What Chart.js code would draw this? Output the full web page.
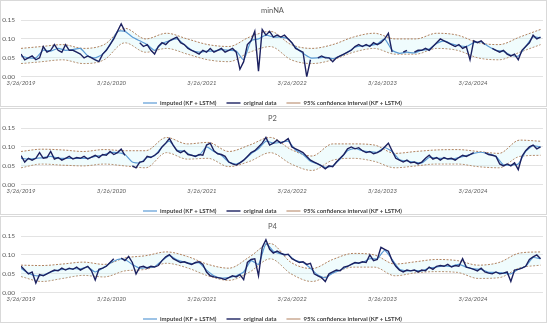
<!DOCTYPE html>
<html>
<head>
<meta charset="utf-8">
<script src="https://cdn.jsdelivr.net/npm/chart.js@4.4.1/dist/chart.umd.min.js"></script>
<style>
  body { margin: 0; background: #fff; }
  .panel { position: absolute; left: 0; width: 545px; height: 105px; border: 1px solid #d9d9d9; overflow: hidden; }
</style>
</head>
<body>
<div class="panel" style="top:0px"><canvas id="c1" width="545" height="115"></canvas></div>
<div class="panel" style="top:108px"><canvas id="c2" width="545" height="115"></canvas></div>
<div class="panel" style="top:216px"><canvas id="c3" width="545" height="115"></canvas></div>
<script>
// x values are days after 3/26/2019
const origStep = 15;     // original data read every 15 days
const imputedStep = 30;  // imputed line read every 30 days
const ciStep = 84;       // confidence band read every 84 days

const tickDays = [0, 366, 731, 1096, 1461, 1827];
const tickLabels = ["3/26/2019", "3/26/2020", "3/26/2021", "3/26/2022", "3/26/2023", "3/26/2024"];

// ---- minNA ----
const origMinNA = [
  0.06, 0.045, 0.05, 0.055, 0.045, 0.05, 0.08, 0.065, 0.07, 0.085, 0.07, 0.065, 0.085, 0.07, 0.07, 0.065, 0.06, 0.05, 0.055, 0.05, 0.045, 0.04,
  0.06, 0.07, 0.085, 0.10, 0.12, 0.14, 0.12, null, null, null,
  0.09, 0.08, 0.085, 0.07, 0.06, 0.08, 0.09, 0.085, 0.095, 0.10,
  0.105, 0.09, 0.085, 0.075, 0.07, 0.065, 0.06, 0.07, 0.065, 0.075,
  0.065, 0.07, 0.075, 0.065, 0.07, 0.075, 0.065, 0.02, 0.04, 0.085,
  0.095, 0.12, 0.015, 0.125, 0.11, 0.12, 0.105, 0.11, 0.105, 0.11,
  0.10, 0.09, 0.075, 0.07, 0.065, 0.00, 0.045, null, 0.05, 0.055,
  0.05, 0.05, 0.04, 0.05, 0.055, 0.06, 0.065, 0.07, 0.08, 0.085,
  0.08, 0.085, 0.08, 0.09, 0.085, 0.09, 0.10, 0.115, 0.065, null,
  null, 0.065, 0.07, null, 0.065, 0.07, 0.07, 0.075, 0.07, 0.08,
  0.09, 0.10, 0.095, 0.09, 0.085, 0.08, 0.085, 0.075, 0.08, 0.045,
  0.095, 0.09, 0.095, 0.085, null, 0.075, 0.07, 0.065, 0.07, 0.06,
  0.055, 0.06, 0.045, 0.07, 0.08, 0.09, 0.11, 0.10, 0.105
];
const impMinNA = [
  0.055, 0.05, 0.05, 0.07, 0.068, 0.075, 0.07, 0.072, 0.075, 0.055,
  0.05, 0.06, 0.085, 0.12, 0.12, 0.105, 0.095, 0.085, 0.07, 0.088,
  0.095, 0.1, 0.085, 0.07, 0.065, 0.068, 0.068, 0.072, 0.07, 0.068,
  0.045, 0.095, 0.1, 0.11, 0.105, 0.105, 0.1, 0.078, 0.062, 0.05,
  0.05, 0.052, 0.048, 0.055, 0.065, 0.078, 0.082, 0.083, 0.087, 0.1,
  0.07, 0.062, 0.065, 0.063, 0.07, 0.073, 0.088, 0.095, 0.087, 0.082,
  0.08, 0.09, 0.092, 0.08, 0.07, 0.067, 0.057, 0.055, 0.08, 0.105,
  0.103
];
const ciHiMinNA = [0.075, 0.08, 0.085, 0.075, 0.085, 0.128, 0.10, 0.115, 0.10, 0.085, 0.08, 0.105, 0.12, 0.085, 0.075, 0.085, 0.105, 0.115, 0.10, 0.10, 0.115, 0.11, 0.09, 0.085, 0.105, 0.125];
const ciLoMinNA = [0.035, 0.04, 0.045, 0.035, 0.045, 0.09, 0.065, 0.075, 0.06, 0.045, 0.04, 0.065, 0.08, 0.045, 0.035, 0.045, 0.065, 0.075, 0.06, 0.06, 0.075, 0.07, 0.05, 0.045, 0.065, 0.085];

// ---- P2 ----
const origP2 = [
  0.077, 0.06, 0.07, 0.065, 0.07, 0.085, 0.07, 0.072, 0.088, 0.068,
  0.072, 0.065, 0.07, 0.075, 0.068, 0.072, 0.07, 0.075, 0.068, 0.073,
  0.078, 0.072, 0.08, 0.078, 0.088, 0.08, 0.085, 0.094, 0.078, null,
  0.05, 0.045, 0.06, 0.062, 0.075, 0.072, 0.078, 0.085, 0.1, 0.11,
  0.122, 0.105, 0.09, 0.085, 0.09, 0.08, 0.078, 0.075, 0.08, 0.078,
  0.105, 0.11, 0.09, 0.082, 0.08, 0.075, 0.06, 0.055, 0.052, 0.058,
  0.065, 0.075, 0.085, 0.09, 0.1, 0.11, 0.125, 0.105, 0.11, 0.118,
  0.11, 0.115, 0.122, 0.1, 0.095, 0.09, 0.085, 0.075, 0.065, 0.06,
  0.055, 0.05, 0.042, 0.05, 0.048, 0.06, 0.07, 0.08, 0.095, 0.1,
  0.095, 0.098, 0.09, 0.085, 0.088, 0.082, 0.085, 0.09, 0.1, 0.11,
  0.09, 0.07, 0.065, 0.06, 0.065, 0.058, 0.06, 0.055, 0.06, 0.07,
  0.078, 0.068, 0.072, 0.065, 0.072, 0.068, 0.07, 0.065, 0.072, 0.078,
  0.075, 0.08, 0.085, null, null, 0.085, 0.08, 0.078, 0.075, 0.055,
  0.05, 0.055, 0.05, 0.058, 0.04, 0.075, 0.09, 0.1, 0.105, 0.095, 0.1
];
const impP2 = [
  0.07, 0.068, 0.07, 0.072, 0.075, 0.07, 0.07, 0.07, 0.07, 0.07,
  0.075, 0.078, 0.085, 0.085, 0.08, 0.06, 0.058, 0.072, 0.077, 0.1,
  0.115, 0.092, 0.088, 0.078, 0.078, 0.1, 0.088, 0.078, 0.06, 0.055,
  0.065, 0.082, 0.095, 0.115, 0.11, 0.112, 0.115, 0.092, 0.08, 0.062,
  0.055, 0.046, 0.05, 0.068, 0.09, 0.096, 0.09, 0.087, 0.086, 0.098,
  0.088, 0.066, 0.063, 0.06, 0.058, 0.072, 0.07, 0.07, 0.068, 0.072,
  0.077, 0.083, 0.086, 0.082, 0.075, 0.053, 0.052, 0.055, 0.088, 0.103,
  0.1
];
const ciHiP2 = [0.088, 0.094, 0.092, 0.088, 0.093, 0.09, 0.09, 0.125, 0.108, 0.112, 0.088, 0.105, 0.125, 0.093, 0.076, 0.108, 0.108, 0.105, 0.083, 0.088, 0.092, 0.093, 0.088, 0.083, 0.118, 0.115];
const ciLoP2 = [0.045, 0.055, 0.052, 0.05, 0.055, 0.05, 0.045, 0.085, 0.068, 0.07, 0.048, 0.062, 0.085, 0.055, 0.038, 0.065, 0.07, 0.062, 0.045, 0.05, 0.055, 0.055, 0.048, 0.045, 0.075, 0.078];

// ---- P4 ----
const origP4 = [
  0.07, 0.06, 0.05, 0.055, 0.026, 0.048, 0.045, 0.05, 0.055, 0.06,
  0.058, 0.065, 0.06, 0.065, 0.062, 0.068, 0.06, 0.065, 0.07, 0.058,
  0.034, 0.062, 0.065, 0.07, 0.08, 0.09, null, 0.092, 0.085, 0.096,
  0.08, 0.05, 0.068, 0.07, 0.065, 0.07, 0.068, 0.072, 0.085, 0.095,
  0.101, 0.09, 0.085, 0.08, 0.082, 0.078, 0.075, 0.08, 0.082, 0.075,
  0.055, 0.045, 0.042, 0.04, 0.038, 0.035, 0.04, 0.045, 0.042, 0.048,
  0.035, 0.08, 0.088, 0.09, 0.045, 0.12, 0.14, 0.115, 0.105, 0.11,
  0.105, 0.1, 0.102, 0.09, 0.085, 0.08, 0.082, 0.075, 0.078, 0.05,
  0.045, 0.04, 0.03, 0.05, 0.055, 0.06, 0.058, 0.068, 0.07, 0.075,
  0.08, 0.078, 0.082, 0.08, 0.1, 0.085, 0.088, 0.12, 0.115, 0.11,
  0.085, 0.07, 0.06, 0.055, 0.06, 0.058, 0.06, 0.055, 0.06, 0.058,
  0.068, 0.062, 0.07, 0.072, 0.07, 0.075, 0.068, 0.072, 0.07, 0.09,
  0.068, 0.065, 0.062, 0.058, 0.065, 0.055, 0.052, 0.05, 0.055, 0.05,
  0.052, 0.055, 0.03, 0.06, 0.062, 0.065, 0.07, 0.088, 0.095, 0.1, 0.09
];
const impP4 = [
  0.065, 0.052, 0.045, 0.047, 0.055, 0.06, 0.062, 0.064, 0.063, 0.068,
  0.055, 0.065, 0.078, 0.088, 0.088, 0.075, 0.065, 0.067, 0.069, 0.085,
  0.098, 0.087, 0.081, 0.077, 0.079, 0.06, 0.045, 0.039, 0.04, 0.045,
  0.055, 0.085, 0.075, 0.13, 0.11, 0.103, 0.1, 0.085, 0.08, 0.065,
  0.047, 0.04, 0.052, 0.06, 0.07, 0.078, 0.08, 0.09, 0.09, 0.112,
  0.088, 0.062, 0.058, 0.059, 0.058, 0.065, 0.068, 0.071, 0.07, 0.075,
  0.068, 0.063, 0.062, 0.054, 0.054, 0.052, 0.05, 0.062, 0.07, 0.093,
  0.09
];
const ciHiP4 = [0.073, 0.072, 0.076, 0.081, 0.075, 0.092, 0.098, 0.108, 0.096, 0.075, 0.065, 0.095, 0.13, 0.08, 0.064, 0.088, 0.104, 0.1, 0.076, 0.082, 0.088, 0.085, 0.073, 0.08, 0.105, 0.108];
const ciLoP4 = [0.043, 0.03, 0.038, 0.046, 0.042, 0.058, 0.062, 0.078, 0.066, 0.045, 0.033, 0.055, 0.09, 0.05, 0.03, 0.052, 0.068, 0.068, 0.045, 0.053, 0.056, 0.054, 0.038, 0.04, 0.066, 0.073];

function toPoints(values, step) {
  return values.map((v, i) => ({ x: i * step, y: v }));
}

function makeChart(id, title, orig, imp, hi, lo) {
  new Chart(document.getElementById(id), {
    type: 'line',
    data: {
      datasets: [
        { label: 'imputed (KF + LSTM)', data: toPoints(imp, imputedStep), borderColor: '#5b9bd5', backgroundColor: '#5b9bd5', borderWidth: 1.2, tension: 0.2, order: 1 },
        { label: 'original data', data: toPoints(orig, origStep), borderColor: '#1c2160', backgroundColor: '#1c2160', borderWidth: 1.4, spanGaps: false, order: 0 },
        { label: '95% confidence interval (KF + LSTM)', data: toPoints(hi, ciStep), borderColor: '#a8734c', borderDash: [2, 1.5], borderWidth: 0.9,
          cubicInterpolationMode: 'monotone', fill: '+1', backgroundColor: 'rgba(205,245,250,0.3)', order: 2 },
        { label: 'lower', data: toPoints(lo, ciStep), borderColor: '#a8734c', borderDash: [2, 1.5], borderWidth: 0.9,
          cubicInterpolationMode: 'monotone', fill: false, order: 3 }
      ]
    },
    options: {
      responsive: false,
      animation: false,
      layout: { padding: { left: 1, right: 3, top: 3, bottom: 0 } },
      elements: { point: { radius: 0 } },
      scales: {
        x: {
          type: 'linear', min: 0, max: 2110,
          grid: { display: false, drawTicks: false },
          border: { display: false },
          afterBuildTicks: (axis) => { axis.ticks = tickDays.map(v => ({ value: v })); },
          ticks: {
            autoSkip: false, maxRotation: 0, padding: 3, color: '#595959',
            font: { family: 'Lato', size: 6, style: 'italic' },
            callback: (v) => tickLabels[tickDays.indexOf(v)]
          }
        },
        y: {
          min: 0, max: 0.15,
          grid: { color: '#e3e3e3', drawTicks: false },
          border: { display: false },
          afterFit: (s) => { s.width = 19; },
          ticks: {
            stepSize: 0.05, padding: 6, color: '#595959',
            font: { family: 'Lato', size: 6.5 },
            callback: (v) => v.toFixed(2)
          }
        }
      },
      plugins: {
        tooltip: { enabled: false },
        title: {
          display: true, text: title, color: '#595959',
          font: { family: 'Lato', size: 7.5, weight: 'normal' },
          padding: { top: 2, bottom: 5 }
        },
        legend: {
          position: 'bottom',
          labels: {
            usePointStyle: true, pointStyle: 'line', pointStyleWidth: 14,
            padding: 10, color: '#404040',
            font: { family: 'Lato', size: 6, weight: 'bold' },
            filter: (item) => item.datasetIndex !== 3,
            sort: (a, b) => a.datasetIndex - b.datasetIndex
          }
        }
      }
    }
  });
}

makeChart('c1', 'minNA', origMinNA, impMinNA, ciHiMinNA, ciLoMinNA);
makeChart('c2', 'P2', origP2, impP2, ciHiP2, ciLoP2);
makeChart('c3', 'P4', origP4, impP4, ciHiP4, ciLoP4);
</script>
</body>
</html>
